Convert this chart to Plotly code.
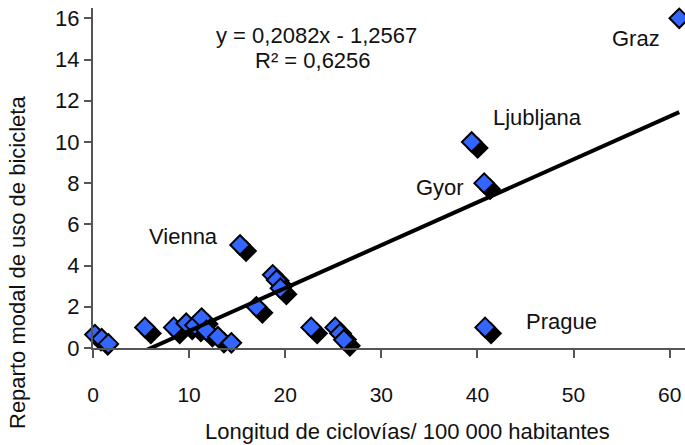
import plotly.graph_objects as go

# Data
x_vals = [0.2, 0.9, 1.6, 5.4, 8.4, 9.7, 10.6, 11.3, 11.8, 13.0, 14.4, 15.3, 17.0,
          18.7, 19.1, 19.5, 22.7, 25.2, 25.7, 26.1, 39.4, 40.7, 40.8, 61.0]
y_vals = [0.65, 0.45, 0.2, 1.0, 1.0, 1.2, 1.1, 1.45, 0.85, 0.55, 0.25, 5.0, 2.0,
          3.55, 3.3, 2.9, 1.0, 1.0, 0.7, 0.4, 10.0, 8.0, 1.0, 16.0]

slope = 0.2082
intercept = -1.2567
eq_text = "y = 0,2082x - 1,2567"
r2_text = "R² = 0,6256"

city_names = ["Graz", "Ljubljana", "Gyor", "Vienna", "Prague"]
city_label_x = [56.5, 46.2, 36.1, 9.4, 48.8]
city_label_y = [15.0, 11.2, 7.8, 5.4, 1.3]

x_ticks = [0, 10, 20, 30, 40, 50, 60]
y_ticks = [0, 2, 4, 6, 8, 10, 12, 14, 16]

x_range = [0, 61.6]
y_range = [0, 16.5]

W, H = 685, 445
ML, MR, MT, MB = 93, 0, 8, 97
plot_w = W - ML - MR
plot_h = H - MT - MB

# shadow offset in pixels converted to data units
sh_px = 6
dx = sh_px * (x_range[1] - x_range[0]) / plot_w
dy = sh_px * (y_range[1] - y_range[0]) / plot_h

FONT = "Liberation Sans, Arial, sans-serif"

fig = go.Figure()

# shadows
fig.add_trace(go.Scatter(
    x=[v + dx for v in x_vals], y=[v - dy for v in y_vals], mode="markers",
    marker=dict(symbol="diamond", size=15, color="black",
                line=dict(color="black", width=2)),
    cliponaxis=False, hoverinfo="skip", showlegend=False))

# main markers
fig.add_trace(go.Scatter(
    x=x_vals, y=y_vals, mode="markers",
    marker=dict(symbol="diamond", size=15, color="#3366FF",
                line=dict(color="black", width=2)),
    cliponaxis=False, showlegend=False))

# trendline
x0, x1 = min(x_vals), max(x_vals)
fig.add_trace(go.Scatter(
    x=[x0, x1], y=[slope * x0 + intercept, slope * x1 + intercept],
    mode="lines", line=dict(color="black", width=4), showlegend=False,
    hoverinfo="skip"))

def ann(x, y, text, size=22, ref="paper", **kw):
    return dict(x=x, y=y, xref="x" if ref == "data" else "paper",
                yref="y" if ref == "data" else "paper", text=text,
                showarrow=False, xanchor="center", yanchor="middle",
                font=dict(family=FONT, size=size, color="#111"), **kw)

annotations = []
for name, lx, ly in zip(city_names, city_label_x, city_label_y):
    annotations.append(ann(lx, ly, name, ref="data"))

annotations.append(ann((316 - ML) / plot_w, (H - MB - 35) / plot_h, eq_text))
annotations.append(ann((313 - ML) / plot_w, (H - MB - 60) / plot_h, r2_text))

# axis titles
annotations.append(ann((407 - ML) / plot_w, -(431 - (H - MB)) / plot_h,
                       "Longitud de ciclovías/ 100 000 habitantes", size=22))
annotations.append(ann((17 - ML) / plot_w, ((H - MB) - 263) / plot_h,
                       "Reparto modal de uso de bicicleta", size=22,
                       textangle=-90))

fig.update_layout(
    width=W, height=H,
    margin=dict(l=ML, r=MR, t=MT, b=MB),
    paper_bgcolor="white", plot_bgcolor="white",
    annotations=annotations,
    xaxis=dict(range=x_range, tickvals=x_ticks, showgrid=False, zeroline=False,
               showline=True, linecolor="#555", linewidth=2,
               ticks="outside", ticklen=8, tickwidth=2, tickcolor="#555",
               ticklabelstandoff=19,
               tickfont=dict(family=FONT, size=21, color="#111")),
    yaxis=dict(range=y_range, tickvals=y_ticks, showgrid=False, zeroline=False,
               showline=True, linecolor="#555", linewidth=2,
               ticks="outside", ticklen=7, tickwidth=2, tickcolor="#555",
               ticksuffix="\u00a0",
               tickfont=dict(family=FONT, size=22, color="#111")),
)

fig.write_html("out.html")
